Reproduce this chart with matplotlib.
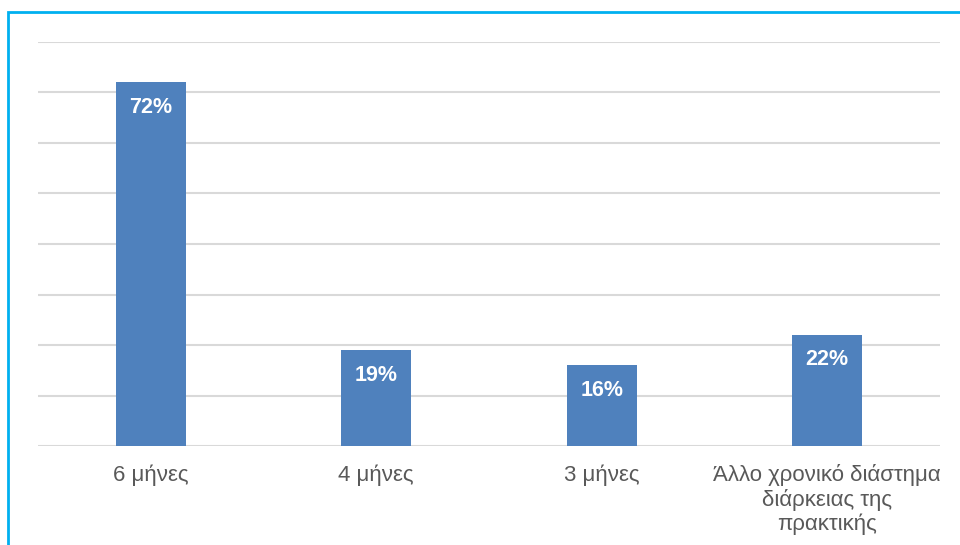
import matplotlib.pyplot as plt
from matplotlib.patches import Rectangle

# data
categories = ['6 μήνες', '4 μήνες', '3 μήνες', 'Άλλο χρονικό διάστημα\nδιάρκειας της\nπρακτικής']
values = [72, 19, 16, 22]

plt.rcParams['font.family'] = ['Liberation Sans', 'DejaVu Sans']

fig = plt.figure(figsize=(9.6, 5.45), dpi=100)
ax = fig.add_axes([38 / 960, 99 / 545, 902 / 960, 404 / 545])

x = range(len(categories))
ax.bar(x, values, width=0.31, color='#4F81BD', zorder=3)

# value labels inside bars
for i, v in zip(x, values):
    ax.annotate(f'{v}%', (i, v), xytext=(0, -25), textcoords='offset pixels',
                ha='center', va='center', color='white', fontsize=15.5, fontweight='bold', zorder=4)

ax.set_xlim(-0.5, len(categories) - 0.5)
ax.set_ylim(0, 80)
ax.set_yticks(range(0, 81, 10))
ax.yaxis.grid(True, color='#D9D9D9', linewidth=1.5, zorder=0)
ax.tick_params(axis='y', left=False, labelleft=False)
ax.tick_params(axis='x', length=0, pad=13, labelsize=16, labelcolor='#595959')
ax.set_xticks(list(x))
ax.set_xticklabels(categories, linespacing=1.15)
for s in ax.spines.values():
    s.set_visible(False)

# frame around chart (runs off the right and bottom edges)
fig.patches.append(Rectangle((8 / 960, -0.01), 1.05, (545 - 12) / 545 + 0.01, transform=fig.transFigure,
                             fill=False, edgecolor='#00B0F0', linewidth=2))

plt.savefig('out.png', dpi=100)
